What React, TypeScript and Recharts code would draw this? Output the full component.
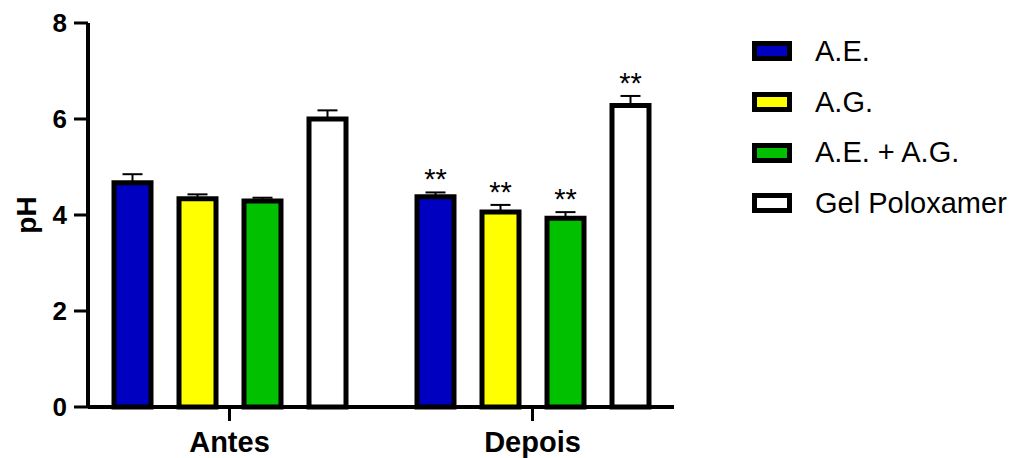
import { BarChart, Bar, XAxis, YAxis, ErrorBar, LabelList, Legend, Label } from "recharts";

const FONT = "'Liberation Sans', Arial, Helvetica, sans-serif";

// groups on the x axis
const groups = ["Antes", "Depois"];

// series
const seriesNames = ["A.E.", "A.G.", "A.E. + A.G.", "Gel Poloxamer"];
const seriesColors = ["#0000c0", "#ffff00", "#00c000", "#ffffff"];

// mean pH per group (Antes, Depois)
const aeValues = [4.67, 4.38];
const agValues = [4.34, 4.06];
const aeAgValues = [4.29, 3.93];
const gelValues = [6.0, 6.28];

// upper error (SD) per group
const aeErrors = [0.18, 0.09];
const agErrors = [0.09, 0.15];
const aeAgErrors = [0.07, 0.13];
const gelErrors = [0.18, 0.2];

// significance marks per group
const aeSig = ["", "**"];
const agSig = ["", "**"];
const aeAgSig = ["", "**"];
const gelSig = ["", "**"];

const yTicks = [0, 2, 4, 6, 8];

const seriesValues = [aeValues, agValues, aeAgValues, gelValues];
const seriesErrors = [aeErrors, agErrors, aeAgErrors, gelErrors];
const seriesSig = [aeSig, agSig, aeAgSig, gelSig];

const data = groups.map((group, i) => {
    const row: Record<string, any> = { group };
    seriesValues.forEach((vals, s) => {
        row[`v${s}`] = vals[i];
        // only the upper half of the error bar is drawn
        row[`e${s}`] = [0, seriesErrors[s][i]];
        row[`sig${s}`] = seriesSig[s][i];
    });
    return row;
});

// puts the stars just above the error bar cap
const starLabel = (values: number[], errors: number[]) => (props: any) => {
    const { index, value } = props;
    if (!value) return null;
    const vb = props.viewBox ?? props;
    const x = vb.x;
    const y = vb.y;
    const width = vb.width;
    const height = Math.abs(vb.height);
    const unit = height / values[index];
    const capY = y - errors[index] * unit;
    return (
        <text
            x={x + width / 2}
            y={capY - 3}
            textAnchor="middle"
            fontSize={29}
            fontFamily={FONT}
            fill="#000"
        >
            {value}
        </text>
    );
};

const CustomLegend = () => (
    <div style={{ fontFamily: FONT }}>
        {seriesNames.map((name, i) => (
            <div key={name} style={{ display: "flex", alignItems: "center", height: 50.7 }}>
                <svg width={40} height={20} style={{ display: "block" }}>
                    <rect x={2.5} y={2.5} width={35} height={15} fill={seriesColors[i]} stroke="#000" strokeWidth={5} />
                </svg>
                <span style={{ marginLeft: 23, fontSize: 29, color: "#000", lineHeight: "29px", whiteSpace: "nowrap" }}>
                    {name}
                </span>
            </div>
        ))}
    </div>
);

const PHLabel = (props: any) => {
    const vb = props.viewBox;
    const cy = vb.y + vb.height / 2;
    return (
        <text
            transform={`translate(36, ${cy}) rotate(-90)`}
            textAnchor="middle"
            fontSize={28}
            fontWeight="bold"
            fontFamily={FONT}
            fill="#000"
        >
            pH
        </text>
    );
};

export default function App() {
    return (
        <div style={{ position: "absolute", left: 0, top: 0, background: "#fff" }}>
            <BarChart
                width={1019}
                height={458}
                data={data}
                margin={{ top: 23, right: 78, bottom: 0, left: 0 }}
                barGap={28}
            >
                <XAxis
                    dataKey="group"
                    height={51}
                    padding={{ left: -10, right: -10 }}
                    axisLine={{ stroke: "#000", strokeWidth: 4 }}
                    tickLine={{ stroke: "#000", strokeWidth: 3 }}
                    tickSize={14}
                    tickMargin={10}
                    tick={{ fontSize: 29, fontWeight: "bold", fill: "#000", fontFamily: FONT }}
                />
                <YAxis
                    width={88}
                    domain={[0, 8]}
                    ticks={yTicks}
                    interval={0}
                    axisLine={{ stroke: "#000", strokeWidth: 4 }}
                    tickLine={{ stroke: "#000", strokeWidth: 3 }}
                    tickSize={14}
                    tickMargin={7}
                    tick={{ fontSize: 26, fontWeight: "bold", fill: "#000", fontFamily: FONT }}
                >
                    <Label content={<PHLabel />} />
                </YAxis>
                <Legend
                    layout="vertical"
                    align="right"
                    verticalAlign="top"
                    width={269}
                    wrapperStyle={{ left: 752, top: 26, width: 267 }}
                    content={<CustomLegend />}
                />
                {seriesNames.map((name, s) => (
                    <Bar
                        key={name}
                        name={name}
                        dataKey={`v${s}`}
                        fill={seriesColors[s]}
                        stroke="#000"
                        strokeWidth={5}
                        barSize={37}
                        isAnimationActive={false}
                    >
                        <ErrorBar dataKey={`e${s}`} width={10} stroke="#000" strokeWidth={2} direction="y" />
                        <LabelList dataKey={`sig${s}`} content={starLabel(seriesValues[s], seriesErrors[s])} />
                    </Bar>
                ))}
            </BarChart>
        </div>
    );
}
